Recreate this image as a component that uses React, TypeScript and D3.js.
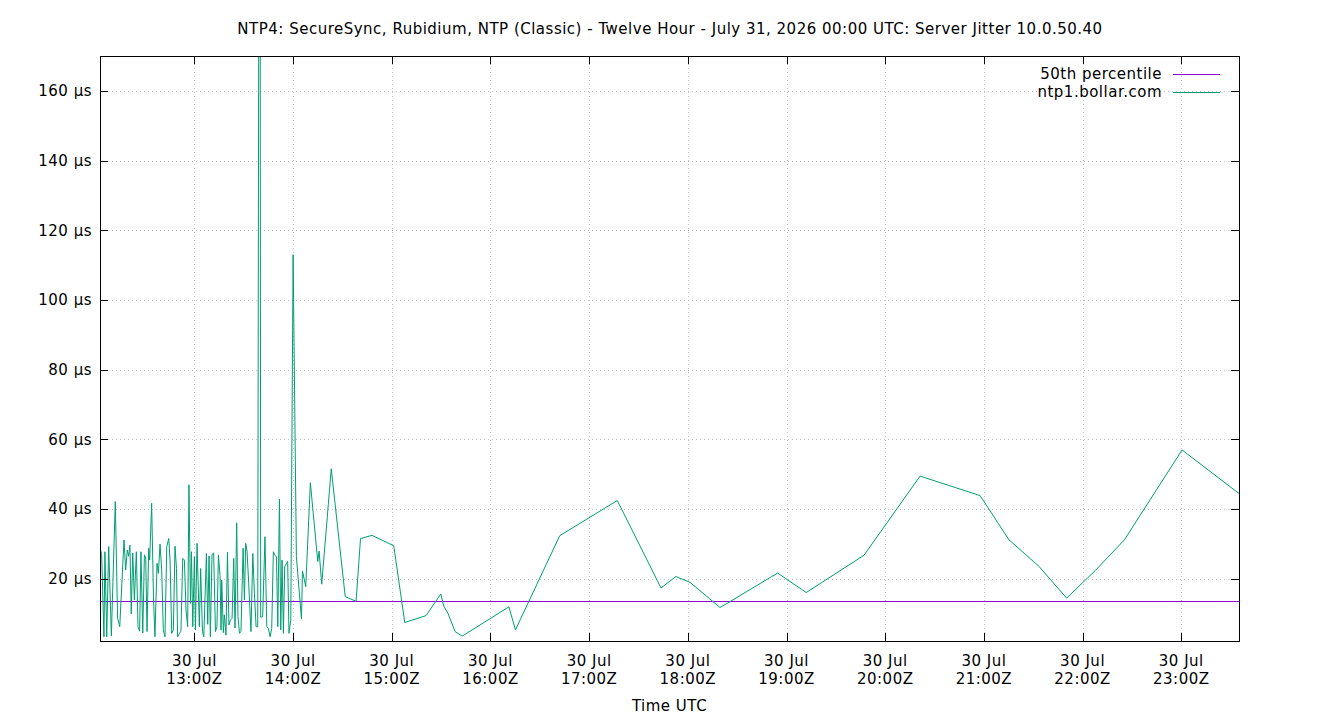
import React, { useRef, useEffect } from "react";
import * as d3 from "d3";

// sample times, minutes after 30 Jul 2026 12:00 UTC
const sampleMinutes = [
  2.6, 3.6, 5.0, 5.6, 6.7, 7.9, 9.5, 11.9, 13.3, 14.6, 17.2, 18.2, 19.2, 20.0,
  20.8, 21.6, 22.5, 23.5, 24.7, 25.7, 26.7, 27.5, 28.6, 29.6, 30.4, 31.2, 32.2,
  32.8, 34.0, 35.1, 36.0, 37.3, 38.1, 39.1, 40.1, 41.1, 42.1, 43.2, 44.4, 45.2,
  46.2, 47.2, 48.2, 49.1, 49.8, 50.9, 51.8, 52.9, 53.9, 54.9, 55.9, 56.7, 57.6,
  58.2, 59.0, 60.0, 60.6, 61.6, 63.0, 63.8, 64.9, 65.7, 67.3, 68.1, 68.9, 69.7,
  70.7, 71.7, 72.8, 73.7, 74.6, 75.6, 76.2, 76.6, 77.6, 78.2, 79.2, 80.1, 81.0,
  81.9, 82.9, 83.9, 84.7, 85.7, 86.5, 87.4, 88.3, 89.6, 90.4, 91.2, 92.0, 93.0,
  94.4, 95.5, 96.5, 97.5, 98.5, 99.7, 100.3, 101.5, 102.9, 104.0, 105.0, 106.0,
  107.0, 108.0, 109.0, 109.9, 110.7, 111.7, 112.5, 113.3, 114.1, 114.9, 116.0,
  116.7, 117.5, 118.6, 120.0, 122.0, 125.1, 125.7, 127.7, 130.5, 135.0, 135.8,
  137.4, 143.2, 151.7, 158.3, 161.0, 168.0, 181.2, 187.9, 200.9, 209.8, 211.6,
  214.1, 218.5, 222.8, 251.2, 255.2, 282.1, 317.1, 343.7, 352.7, 361.4, 379.6,
  414.6, 432.0, 467.1, 501.2, 537.7, 555.3, 573.5, 590.3, 607.7, 625.4, 660.5,
  695.1,
];

// server jitter, microseconds
const jitterUs = [
  29.0, 27.0, 3.4, 27.8, 3.4, 29.3, 3.6, 42.2, 8.7, 6.3, 31.2, 22.6, 28.3, 26.5,
  29.7, 10.0, 27.4, 14.0, 27.8, 6.3, 5.0, 27.8, 4.5, 26.9, 26.0, 4.9, 28.8,
  25.4, 41.7, 15.0, 3.4, 24.5, 21.6, 30.0, 22.5, 5.4, 3.4, 29.3, 31.6, 25.4,
  4.4, 5.4, 29.4, 23.0, 3.4, 4.4, 5.0, 25.9, 25.4, 11.1, 6.3, 47.0, 13.0, 27.8,
  6.3, 26.4, 5.4, 30.2, 6.3, 23.0, 4.9, 3.4, 27.3, 7.0, 26.6, 3.4, 26.9, 27.5,
  4.9, 6.3, 26.9, 21.0, 5.3, 19.7, 4.6, 9.7, 3.9, 27.6, 6.8, 8.2, 8.7, 25.9,
  5.9, 36.1, 9.2, 4.4, 4.9, 28.8, 14.0, 30.2, 28.0, 18.8, 4.9, 27.3, 15.8, 6.3,
  6.3, 350.0, 9.0, 9.2, 32.1, 6.3, 5.8, 3.4, 5.8, 27.8, 26.8, 26.3, 6.3, 42.9,
  5.4, 25.4, 4.4, 23.5, 24.5, 25.0, 4.4, 8.2, 113.0, 26.4, 8.5, 22.3, 17.8,
  47.6, 25.0, 28.0, 18.5, 51.6, 14.9, 13.6, 31.6, 32.5, 29.5, 7.5, 9.5, 15.7,
  12.2, 10.2, 4.9, 3.6, 12.0, 5.4, 32.4, 42.5, 17.4, 20.7, 19.0, 11.8, 21.7,
  16.1, 26.8, 49.5, 43.9, 31.2, 23.6, 14.5, 22.4, 31.2, 57.0, 44.5,
];

const percentile50 = 13.7;
const yTicks = [20, 40, 60, 80, 100, 120, 140, 160];
const yRange = [2.2, 170];
const hourTicks = [13, 14, 15, 16, 17, 18, 19, 20, 21, 22, 23];

const title =
  "NTP4: SecureSync, Rubidium, NTP (Classic) - Twelve Hour - July 31, 2026 00:00 UTC: Server Jitter 10.0.50.40";
const seriesNames = ["50th percentile", "ntp1.bollar.com"];

const base = Date.UTC(2026, 6, 30, 12, 0);
const W = 1340;
const H = 720;
const left = 100;
const right = 1239;
const top = 56;
const bottom = 641;
const font = "DejaVu Sans, sans-serif";

export default function App() {
  const ref = useRef<SVGSVGElement>(null);

  useEffect(() => {
    const svg = d3.select(ref.current);
    svg.selectAll("*").remove();

    const data = sampleMinutes.map((m, i) => ({
      t: new Date(base + m * 60000),
      v: jitterUs[i],
    }));

    const x = d3
      .scaleUtc()
      .domain(d3.extent(data, (d) => d.t) as [Date, Date])
      .range([left, right]);
    const y = d3.scaleLinear().domain(yRange).range([bottom, top]);

    svg
      .append("defs")
      .append("clipPath")
      .attr("id", "plotClip")
      .append("rect")
      .attr("x", left)
      .attr("y", top)
      .attr("width", right - left)
      .attr("height", bottom - top);

    svg.append("rect").attr("width", W).attr("height", H).attr("fill", "#fff");

    const hours = hourTicks.map((h) => new Date(Date.UTC(2026, 6, 30, h, 0)));

    // dotted grid
    const grid = svg
      .append("g")
      .attr("stroke", "#c4c4c4")
      .attr("stroke-width", 1)
      .attr("stroke-dasharray", "1,3");
    yTicks.forEach((v) => {
      const yy = Math.round(y(v)) + 0.5;
      grid.append("line").attr("x1", left).attr("x2", right).attr("y1", yy).attr("y2", yy);
    });
    hours.forEach((h) => {
      const xx = Math.round(x(h)) + 0.5;
      grid.append("line").attr("x1", xx).attr("x2", xx).attr("y1", top).attr("y2", bottom);
    });

    // series
    const plot = svg.append("g").attr("clip-path", "url(#plotClip)");
    plot
      .append("line")
      .attr("x1", left)
      .attr("x2", right)
      .attr("y1", Math.round(y(percentile50)) + 0.5)
      .attr("y2", Math.round(y(percentile50)) + 0.5)
      .attr("stroke", "#9400d3")
      .attr("stroke-width", 1);

    const line = d3
      .line<{ t: Date; v: number }>()
      .x((d) => x(d.t))
      .y((d) => y(d.v));
    plot
      .append("path")
      .datum(data)
      .attr("d", line)
      .attr("fill", "none")
      .attr("stroke", "#009e73")
      .attr("stroke-width", 1);

    // border + mirrored ticks
    const axes = svg.append("g").attr("stroke", "#000").attr("stroke-width", 1);
    axes
      .append("rect")
      .attr("x", left + 0.5)
      .attr("y", top + 0.5)
      .attr("width", right - left)
      .attr("height", bottom - top)
      .attr("fill", "none");
    yTicks.forEach((v) => {
      const yy = Math.round(y(v)) + 0.5;
      axes.append("line").attr("x1", left).attr("x2", left + 8).attr("y1", yy).attr("y2", yy);
      axes.append("line").attr("x1", right - 8).attr("x2", right).attr("y1", yy).attr("y2", yy);
    });
    hours.forEach((h) => {
      const xx = Math.round(x(h)) + 0.5;
      axes.append("line").attr("x1", xx).attr("x2", xx).attr("y1", bottom - 8).attr("y2", bottom);
      axes.append("line").attr("x1", xx).attr("x2", xx).attr("y1", top).attr("y2", top + 8);
    });

    const text = svg
      .append("g")
      .attr("font-family", font)
      .attr("font-size", 15)
      .attr("letter-spacing", "0.5px")
      .attr("fill", "#000");

    yTicks.forEach((v) => {
      text
        .append("text")
        .attr("x", left - 8)
        .attr("y", y(v))
        .attr("dy", "0.35em")
        .attr("text-anchor", "end")
        .text(`${v} µs`);
    });

    const fmt = d3.utcFormat("%H:%MZ");
    hours.forEach((h) => {
      const t = text.append("text").attr("text-anchor", "middle");
      t.append("tspan").attr("x", x(h)).attr("y", 666).text("30 Jul");
      t.append("tspan").attr("x", x(h)).attr("y", 684).text(fmt(h));
    });

    text
      .append("text")
      .attr("x", (left + right) / 2)
      .attr("y", 711)
      .attr("text-anchor", "middle")
      .text("Time UTC");

    text
      .append("text")
      .attr("x", W / 2)
      .attr("y", 34)
      .attr("text-anchor", "middle")
      .text(title);

    // legend
    const colors = ["#9400d3", "#009e73"];
    seriesNames.forEach((name, i) => {
      const ly = 74 + i * 18;
      text
        .append("text")
        .attr("x", 1162)
        .attr("y", ly)
        .attr("dy", "0.35em")
        .attr("text-anchor", "end")
        .text(name);
      svg
        .append("line")
        .attr("x1", 1173)
        .attr("x2", 1220)
        .attr("y1", ly + 0.5)
        .attr("y2", ly + 0.5)
        .attr("stroke", colors[i])
        .attr("stroke-width", 1);
    });
  }, []);

  return (
    <svg
      ref={ref}
      width={W}
      height={H}
      style={{ position: "absolute", left: 0, top: 0, display: "block" }}
    />
  );
}
